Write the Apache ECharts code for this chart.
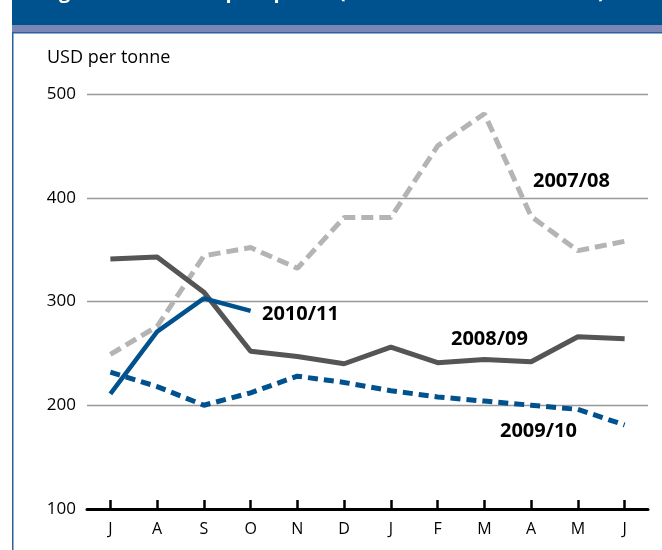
<!DOCTYPE html>
<html>
<head>
<meta charset="utf-8">
<script src="https://cdn.jsdelivr.net/npm/echarts@6/dist/echarts.min.js"></script>
<style>
  html, body { margin: 0; padding: 0; background: #fff; }
  #chart { width: 662px; height: 550px; }
</style>
</head>
<body>
<div id="chart"></div>
<script>
const months = ['J', 'A', 'S', 'O', 'N', 'D', 'J', 'F', 'M', 'A', 'M', 'J']
const yTicks = [100, 200, 300, 400, 500]
const s0708 = [249, 276, 344, 352, 332, 381, 381, 450, 481, 382, 349, 358]
const s0809 = [341, 343, 309, 252, 247, 240, 256, 241, 244, 242, 266, 264]
const s0910 = [232, 218, 200, 212, 228, 222, 214, 208, 204, 200, 196, 181]
const s1011 = [211, 271, 303, 291]

const font = 'Open Sans'
const chart = echarts.init(document.getElementById('chart'))

const option = {
  animation: false,
  textStyle: { fontFamily: font },
  grid: { left: 87, right: 14, top: 94, bottom: 41 },
  graphic: [
    // banner
    { type: 'rect', shape: { x: 12, y: 0, width: 650, height: 25 }, style: { fill: '#00528e' } },
    { type: 'rect', shape: { x: 12, y: 25, width: 650, height: 7 }, style: { fill: '#7a87b4' } },
    { type: 'rect', shape: { x: 12, y: 32, width: 650, height: 1.5 }, style: { fill: '#2e5f9e' } },
    { type: 'rect', shape: { x: 12, y: 32, width: 1.5, height: 518 }, style: { fill: '#2e5f9e' } },
    {
      type: 'text', left: 42, top: -18,
      style: { text: 'Figure 1. Wheat export prices (US No. 2 Hard Red Winter)', fill: '#fff', font: 'bold 20px ' + font }
    },
    { type: 'text', left: 47, top: 49, style: { text: 'USD per tonne', fill: '#000', font: '18px ' + font } },
    // series names
    { type: 'text', left: 533, top: 171, style: { text: '2007/08', fill: '#000', font: 'bold 20px ' + font } },
    { type: 'text', left: 262, top: 304, style: { text: '2010/11', fill: '#000', font: 'bold 20px ' + font } },
    { type: 'text', left: 451, top: 329, style: { text: '2008/09', fill: '#000', font: 'bold 20px ' + font } },
    { type: 'text', left: 500, top: 421, style: { text: '2009/10', fill: '#000', font: 'bold 20px ' + font } }
  ],
  xAxis: {
    type: 'category',
    data: months,
    boundaryGap: true,
    axisLine: { lineStyle: { color: '#000', width: 3 } },
    axisTick: { show: true, alignWithLabel: true, inside: true, length: 9, lineStyle: { color: '#000', width: 2.5 } },
    axisLabel: { color: '#000', fontSize: 16, margin: 12 }
  },
  yAxis: {
    type: 'value',
    min: yTicks[0],
    max: yTicks[yTicks.length - 1],
    interval: 100,
    axisLine: { show: false },
    axisTick: { show: false },
    axisLabel: { color: '#000', fontSize: 17, margin: 11 },
    splitLine: { lineStyle: { color: '#999', width: 1.3 } }
  },
  series: [
    {
      name: '2007/08', type: 'line', data: s0708, symbol: 'none', z: 2,
      lineStyle: { color: '#b4b4b4', width: 5, type: [12, 6], cap: 'butt' }
    },
    {
      name: '2008/09', type: 'line', data: s0809, symbol: 'none', z: 3,
      lineStyle: { color: '#555555', width: 5 }
    },
    {
      name: '2009/10', type: 'line', data: s0910, symbol: 'none', z: 3,
      lineStyle: { color: '#00528e', width: 5, type: [10, 6], cap: 'butt' }
    },
    {
      name: '2010/11', type: 'line', data: s1011, symbol: 'none', z: 4,
      lineStyle: { color: '#00528e', width: 4.5 }
    }
  ]
}
chart.setOption(option)
</script>
</body>
</html>
